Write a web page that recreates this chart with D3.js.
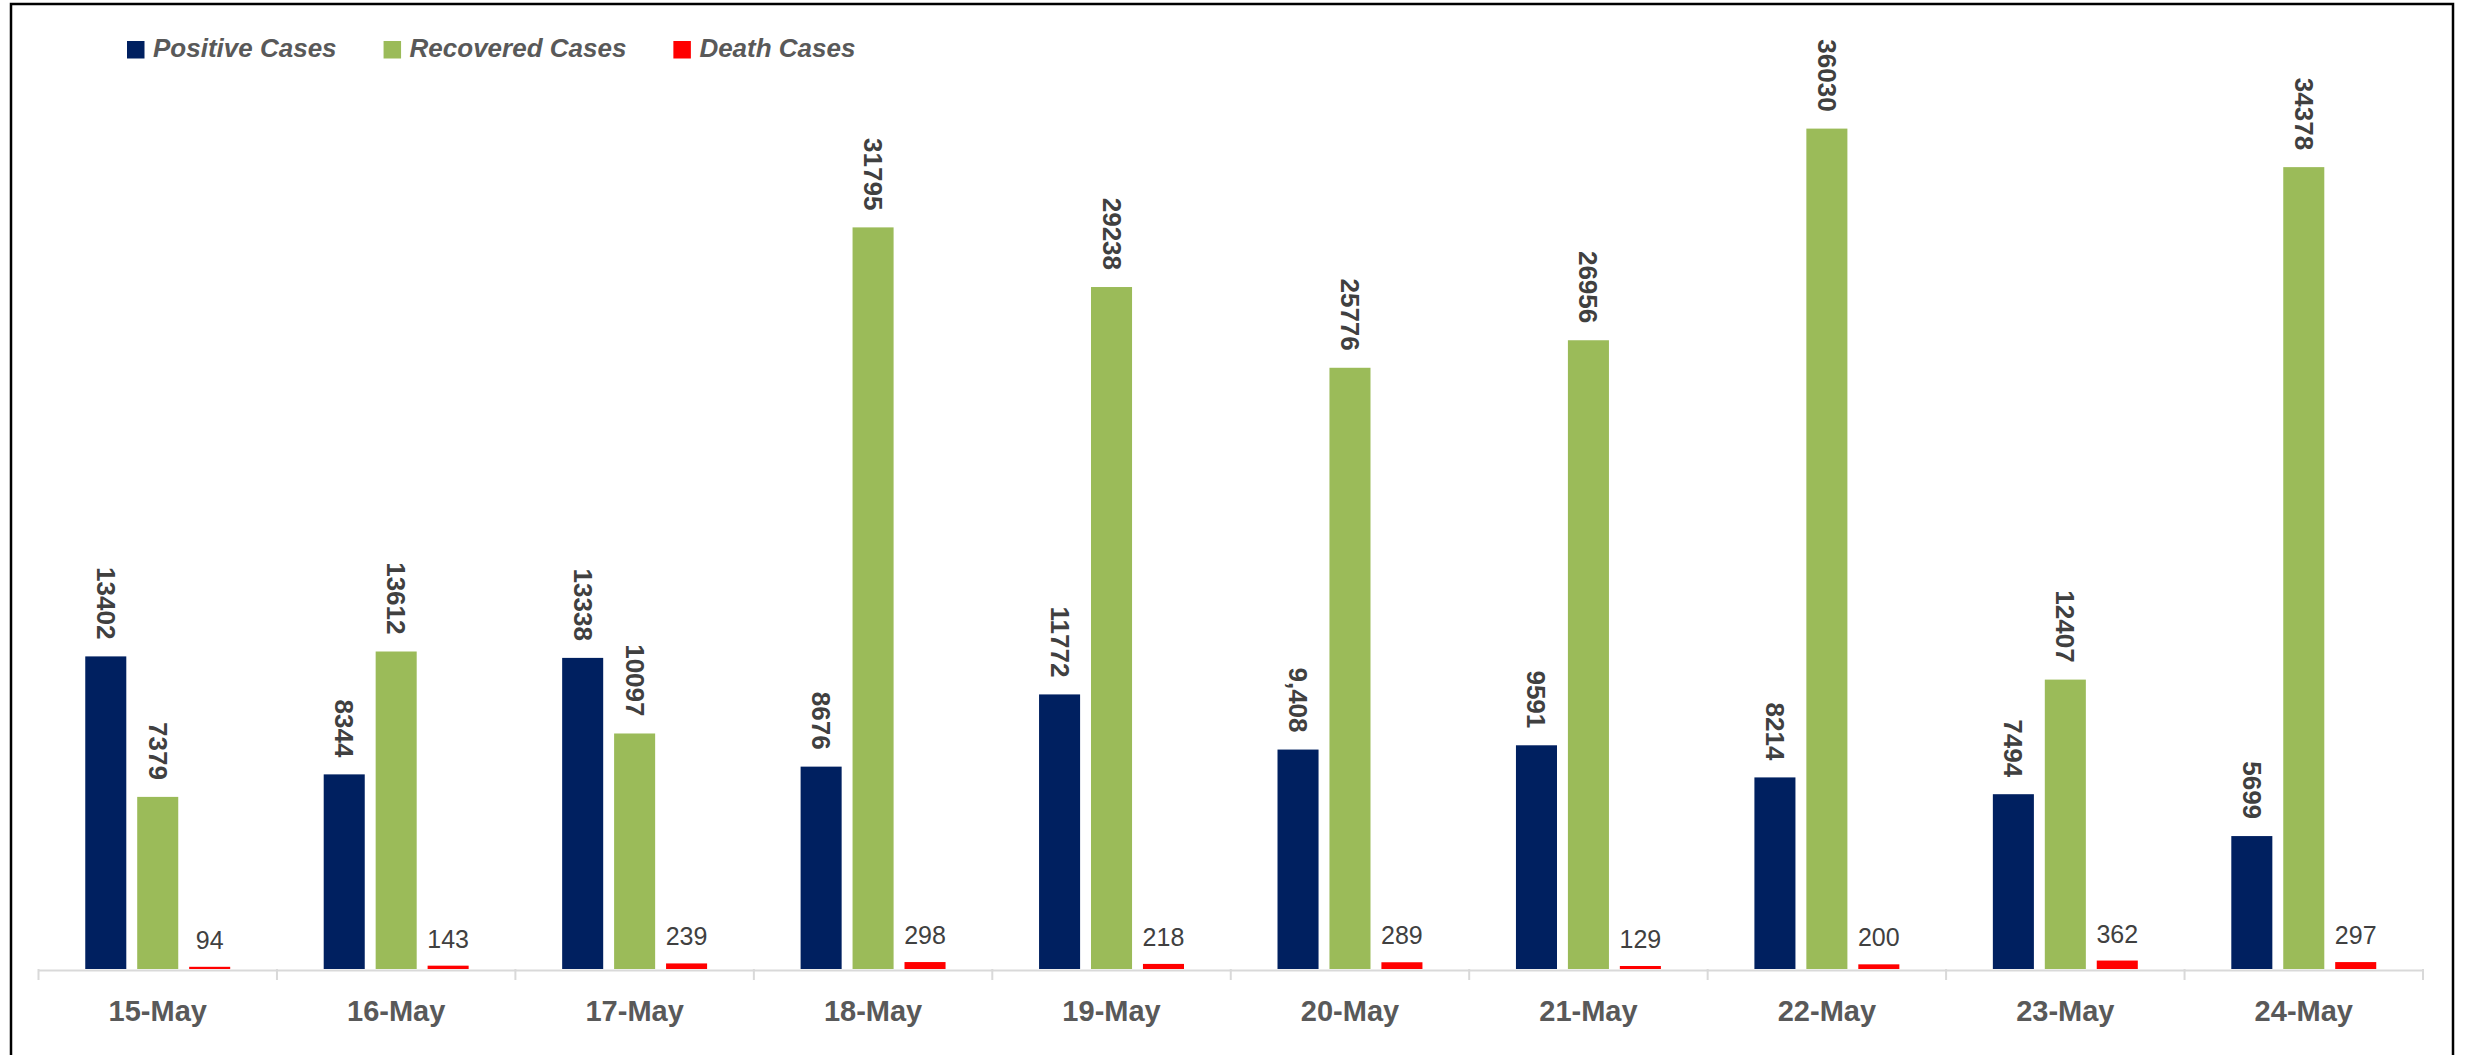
<!DOCTYPE html>
<html>
<head>
<meta charset="utf-8">
<title>May cases</title>
<script src="https://cdnjs.cloudflare.com/ajax/libs/d3/7.8.5/d3.min.js"></script>
<style>
  body { margin: 0; background: #fff; }
  svg { display: block; font-family: "Liberation Sans", Arial, sans-serif; }
</style>
</head>
<body>
<svg id="chart" width="2473" height="1055"></svg>
<script>
const dates = ['15-May', '16-May', '17-May', '18-May', '19-May', '20-May', '21-May', '22-May', '23-May', '24-May'];
const positive = [13402, 8344, 13338, 8676, 11772, 9408, 9591, 8214, 7494, 5699];
const recovered = [7379, 13612, 10097, 31795, 29238, 25776, 26956, 36030, 12407, 34378];
const deaths = [94, 143, 239, 298, 218, 289, 129, 200, 362, 297];
// label text as printed on the chart (one of them carries a comma)
const positiveLabels = ['13402', '8344', '13338', '8676', '11772', '9,408', '9591', '8214', '7494', '5699'];
const seriesNames = ['Positive Cases', 'Recovered Cases', 'Death Cases'];
const colors = ['#002060', '#9bbb59', '#ff0000'];

const svg = d3.select('#chart');

// outer frame
svg.append('rect')
  .attr('x', 11).attr('y', 4)
  .attr('width', 2442).attr('height', 1070)
  .attr('fill', 'none')
  .attr('stroke', '#000')
  .attr('stroke-width', 2.5);

const x0 = d3.scaleBand().domain(dates).range([38.5, 2423]);
const x1 = d3.scaleBand().domain(seriesNames).range([0, x0.bandwidth()])
  .paddingInner(0.21).paddingOuter(0.9);
const y = d3.scaleLinear().domain([0, 40000]).range([969, 36]);

const rows = dates.map((d, i) => ({
  date: d,
  values: [
    { s: seriesNames[0], v: positive[i], label: positiveLabels[i] },
    { s: seriesNames[1], v: recovered[i], label: String(recovered[i]) },
    { s: seriesNames[2], v: deaths[i], label: String(deaths[i]) }
  ]
}));

const groups = svg.append('g').selectAll('g')
  .data(rows)
  .join('g')
  .attr('transform', d => `translate(${x0(d.date)},0)`);

groups.selectAll('rect')
  .data(d => d.values)
  .join('rect')
  .attr('x', d => x1(d.s))
  .attr('y', d => y(d.v))
  .attr('width', x1.bandwidth())
  .attr('height', d => y(0) - y(d.v))
  .attr('fill', (d, i) => colors[i]);

// rotated bold labels for positive / recovered
groups.selectAll('text.vlabel')
  .data(d => d.values.slice(0, 2))
  .join('text')
  .attr('class', 'vlabel')
  .attr('transform', d => `translate(${x1(d.s) + x1.bandwidth() / 2},${y(d.v) - 17}) rotate(90)`)
  .attr('text-anchor', 'end')
  .attr('dominant-baseline', 'central')
  .attr('font-size', 26)
  .attr('font-weight', 'bold')
  .attr('fill', '#404040')
  .text(d => d.label);

// horizontal labels for deaths
groups.selectAll('text.dlabel')
  .data(d => d.values.slice(2))
  .join('text')
  .attr('class', 'dlabel')
  .attr('x', d => x1(d.s) + x1.bandwidth() / 2)
  .attr('y', d => y(d.v) - 18)
  .attr('text-anchor', 'middle')
  .attr('font-size', 25)
  .attr('fill', '#404040')
  .text(d => d.label);

// category axis
const xAxis = svg.append('g')
  .attr('transform', 'translate(0,970)')
  .call(d3.axisBottom(x0).tickSize(0).tickPadding(0));
xAxis.select('.domain').attr('stroke', '#d9d9d9').attr('stroke-width', 2);
xAxis.selectAll('.tick text')
  .attr('dy', 0)
  .attr('y', 51)
  .attr('font-size', 29)
  .attr('font-weight', 'bold')
  .attr('font-family', '"Liberation Sans", Arial, sans-serif')
  .attr('fill', '#595959');

// tick marks on category boundaries
const bounds = dates.map(d => x0(d)).concat([x0.range()[1]]);
svg.append('g').selectAll('line')
  .data(bounds)
  .join('line')
  .attr('x1', d => d).attr('x2', d => d)
  .attr('y1', 969).attr('y2', 980)
  .attr('stroke', '#d9d9d9')
  .attr('stroke-width', 2);

// legend
const legend = svg.append('g');
let lx = 127;
seriesNames.forEach((name, i) => {
  legend.append('rect')
    .attr('x', lx).attr('y', 41)
    .attr('width', 17.5).attr('height', 17.5)
    .attr('fill', colors[i]);
  const t = legend.append('text')
    .attr('x', lx + 26).attr('y', 57)
    .attr('font-size', 26)
    .attr('font-weight', 'bold')
    .attr('font-style', 'italic')
    .attr('fill', '#595959')
    .text(name);
  lx += 26 + t.node().getComputedTextLength() + 47;
});
</script>
</body>
</html>
